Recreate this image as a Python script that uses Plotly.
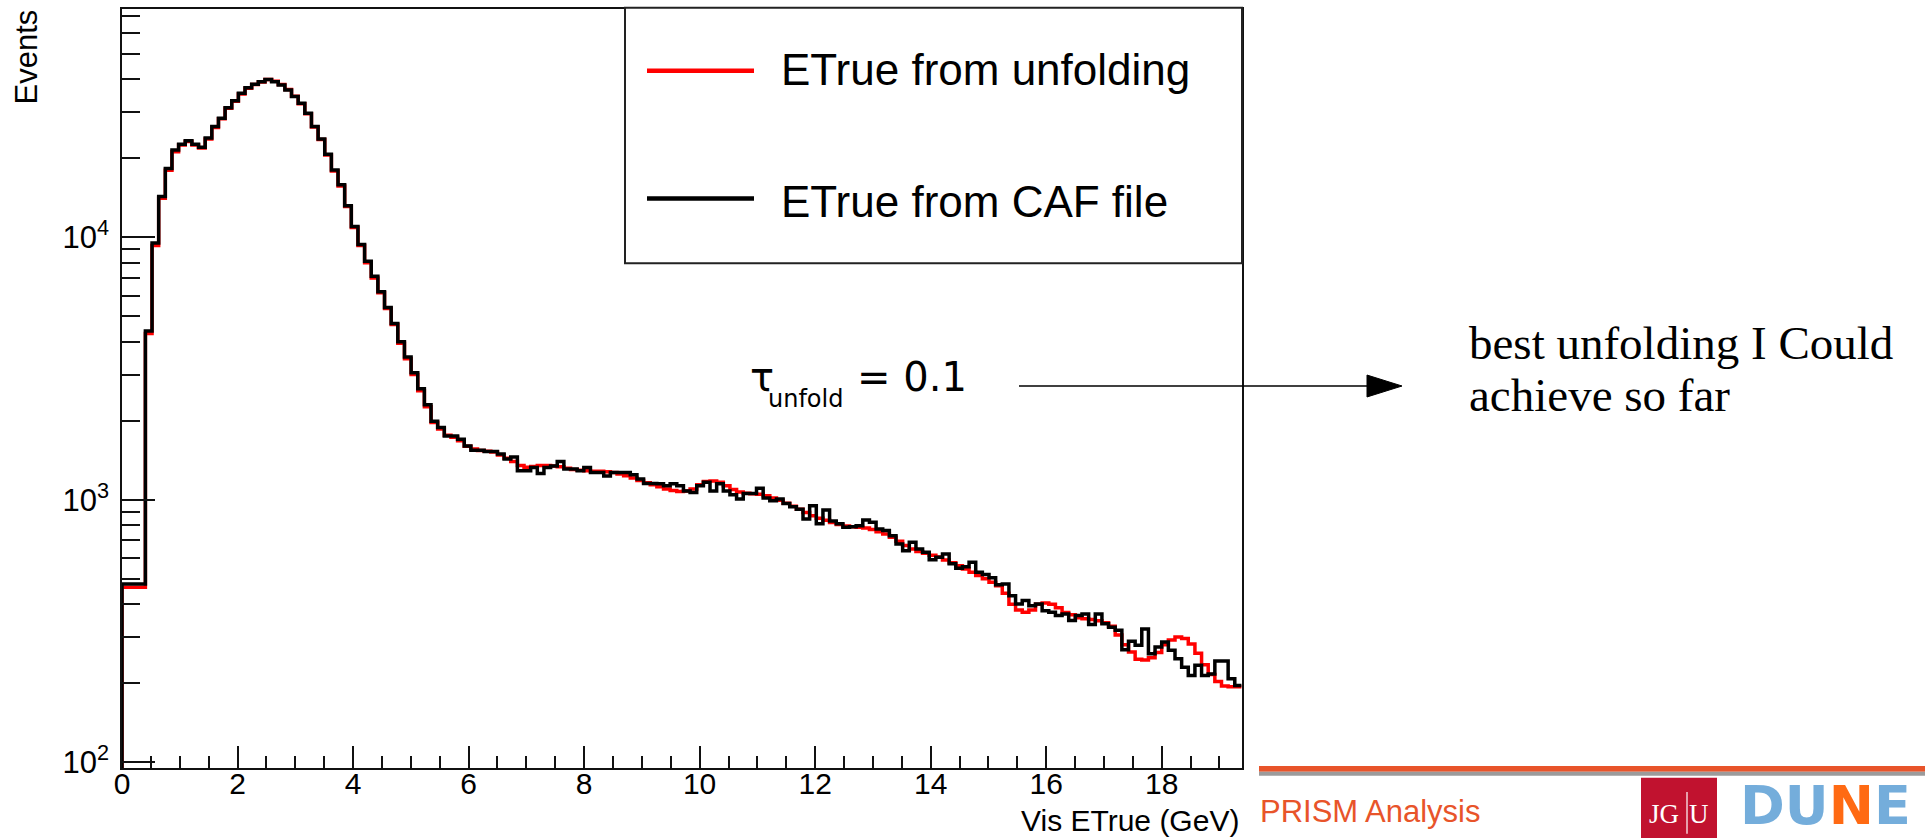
import plotly.graph_objects as go

# ---------------- data ----------------
first_bin_edges = [0.0, 0.405]      # wide first bin
bin_start = 0.405
bin_width = 0.115
n_bins = 165

caf_first = 478
caf = [
    4400, 9510, 14300, 18300, 21500, 22650, 23340, 22650, 22030, 23880,
    26420, 28430, 31190, 33170, 35390, 37170, 38270, 39170, 39960, 39170,
    38070, 36460, 34390, 32420, 29710, 26420, 23720, 20750, 18070, 15850,
    13200, 11000, 9400, 8100, 7100, 6200, 5400, 4700, 4000, 3500,
    3050, 2650, 2300, 1990, 1885, 1750, 1750, 1700, 1604, 1545,
    1545, 1527, 1527, 1493, 1429, 1455, 1289, 1289, 1327, 1259,
    1327, 1346, 1400, 1310, 1310, 1289, 1327, 1271, 1271, 1233,
    1271, 1271, 1271, 1245, 1199, 1154, 1154, 1150, 1130, 1150,
    1130, 1081, 1066, 1130, 1165, 1081, 1150, 1081, 1045, 1007,
    1057, 1057, 1107, 1015, 991, 1007, 968, 940, 921, 845,
    948, 810, 915, 831, 810, 785, 789, 796, 837, 821,
    774, 763, 730, 679, 640, 689, 650, 631, 591, 604,
    622, 571, 549, 556, 578, 530, 519, 504, 475, 478,
    431, 401, 413, 395, 401, 378, 373, 362, 367, 347,
    362, 367, 335, 367, 337, 327, 318, 268, 289, 279,
    322, 259, 275, 287, 267, 248, 230, 214, 234, 214,
    217, 243, 243, 208, 196,
]

unf_first = 464
unf = [
    4300, 9300, 14100, 18000, 21200, 22500, 23200, 22500, 21900, 23700,
    26200, 28300, 31000, 33000, 35200, 37000, 38200, 39100, 39900, 39300,
    38200, 36600, 34500, 32300, 29600, 26300, 23600, 20600, 17900, 15700,
    13100, 10900, 9300, 8000, 7000, 6150, 5350, 4650, 3950, 3450,
    3000, 2600, 2260, 1970, 1860, 1760, 1730, 1680, 1600, 1560,
    1540, 1530, 1520, 1480, 1440, 1400, 1350, 1330, 1340, 1350,
    1350, 1345, 1335, 1320, 1305, 1295, 1290, 1285, 1285, 1280,
    1270, 1255, 1235, 1210, 1185, 1160, 1140, 1120, 1100, 1085,
    1075, 1080, 1100, 1140, 1175, 1180, 1165, 1130, 1095, 1070,
    1060, 1055, 1050, 1035, 1015, 995, 970, 945, 920, 895,
    870, 850, 835, 820, 805, 795, 790, 785, 780, 770,
    755, 740, 720, 695, 670, 650, 635, 625, 615, 605,
    590, 575, 560, 545, 530, 515, 500, 485, 470, 440,
    400, 380, 373, 380, 400, 404, 400, 388, 372, 365,
    355, 352, 350, 346, 340, 330, 305, 280, 263, 247,
    245, 250, 262, 280, 292, 300, 296, 282, 260, 235,
    216, 203, 195, 194, 194,
]

legend_labels = ["ETrue from unfolding", "ETrue from CAF file"]
x_ticks = [0, 2, 4, 6, 8, 10, 12, 14, 16, 18]
y_ticks = [100, 1000, 10000]
y_ticktext = ["10<sup>2</sup>", "10<sup>3</sup>", "10<sup>4</sup>"]
y_minor = [v * m for v in (100, 1000, 10000) for m in range(2, 10)]

x_range = [0, 19.39]
y_range = [1.978, 4.870]

# ---------------- layout geometry (pixels) ----------------
W, H = 1925, 838
L, R, T, B = 122, 683, 7, 70
PW, PH = W - L - R, H - T - B


def px(x):
    return (x - L) / PW


def py(y):
    return (H - B - y) / PH


edges = first_bin_edges + [round(bin_start + bin_width * (i + 1), 4) for i in range(n_bins)]
floor_val = 10 ** (y_range[0] - 0.5)


def step_xy(first, vals):
    ys = [floor_val, first] + list(vals) + [vals[-1]]
    xs = [edges[0]] + edges
    return xs, ys


fig = go.Figure()
xr, yr = step_xy(unf_first, unf)
fig.add_trace(go.Scatter(x=xr, y=yr, mode="lines", line=dict(color="#ff0000", width=3.5, shape="hv"),
                         name=legend_labels[0], showlegend=False, hoverinfo="skip"))
xb, yb = step_xy(caf_first, caf)
fig.add_trace(go.Scatter(x=xb, y=yb, mode="lines", line=dict(color="#000000", width=3.5, shape="hv"),
                         name=legend_labels[1], showlegend=False, hoverinfo="skip"))

xtick_font = dict(family="Liberation Sans, Arial, sans-serif", size=30, color="black")
ytick_font = dict(family="Liberation Sans, Arial, sans-serif", size=31, color="black")

fig.update_xaxes(range=x_range, showgrid=False, zeroline=False,
                 showline=True, mirror=True, linecolor="#111", linewidth=1.5,
                 ticks="inside", ticklen=22, tickwidth=1.5, tickcolor="#111",
                 tickvals=x_ticks, ticktext=[str(v) for v in x_ticks],
                 tickfont=xtick_font, ticklabelstandoff=-12,
                 minor=dict(ticks="inside", ticklen=12, tickwidth=1.5, tickcolor="#111", dtick=0.5, tick0=0))
fig.update_yaxes(type="log", range=y_range, showgrid=False, zeroline=False,
                 showline=True, mirror=True, linecolor="#111", linewidth=1.5,
                 ticks="inside", ticklen=33, tickwidth=1.5, tickcolor="#111",
                 tickvals=y_ticks, ticktext=y_ticktext,
                 tickfont=ytick_font, ticklabelstandoff=5,
                 minor=dict(ticks="inside", ticklen=18, tickwidth=1.5, tickcolor="#111", tickvals=y_minor))

shapes = []
annots = []

# legend box
shapes.append(dict(type="rect", xref="paper", yref="paper", x0=px(625), x1=px(1242), y0=py(262), y1=py(5.7),
                   line=dict(color="#222", width=2), fillcolor="white", layer="above"))
shapes.append(dict(type="line", xref="paper", yref="paper", x0=px(647), x1=px(754), y0=py(69), y1=py(69),
                   line=dict(color="#ff0000", width=4.5), layer="above"))
shapes.append(dict(type="line", xref="paper", yref="paper", x0=px(647), x1=px(754), y0=py(197), y1=py(197),
                   line=dict(color="#000000", width=4.5), layer="above"))
leg_font = dict(family="Liberation Sans, Arial, sans-serif", size=44, color="black")
annots.append(dict(x=px(779), y=py(68), xref="paper", yref="paper", text=legend_labels[0],
                   xanchor="left", yanchor="middle", showarrow=False, font=leg_font))
annots.append(dict(x=px(779), y=py(200), xref="paper", yref="paper", text=legend_labels[1],
                   xanchor="left", yanchor="middle", showarrow=False, font=leg_font))

# axis titles
annots.append(dict(x=px(1240), y=py(821), xref="paper", yref="paper", text="Vis ETrue (GeV)",
                   xanchor="right", yanchor="middle", showarrow=False, borderpad=0,
                   font=dict(family="Liberation Sans, Arial, sans-serif", size=30, color="black")))
annots.append(dict(x=px(27), y=py(6), xref="paper", yref="paper", text="Events", textangle=-90,
                   xanchor="center", yanchor="top", showarrow=False,
                   font=dict(family="Liberation Sans, Arial, sans-serif", size=31, color="black")))

# tau annotation
tau_font = dict(family="DejaVu Sans, sans-serif", size=40, color="black")
annots.append(dict(x=px(748), y=py(376), xref="paper", yref="paper", text="τ",
                   xanchor="left", yanchor="middle", showarrow=False, font=tau_font))
annots.append(dict(x=px(766), y=py(398), xref="paper", yref="paper", text="unfold",
                   xanchor="left", yanchor="middle", showarrow=False,
                   font=dict(family="DejaVu Sans, sans-serif", size=24, color="black")))
annots.append(dict(x=px(855), y=py(376), xref="paper", yref="paper", text="= 0.1",
                   xanchor="left", yanchor="middle", showarrow=False, font=tau_font))

# arrow
shapes.append(dict(type="line", xref="paper", yref="paper", x0=px(1019), x1=px(1372), y0=py(385), y1=py(385),
                   line=dict(color="black", width=1.5), layer="above"))
shapes.append(dict(type="path", xref="paper", yref="paper",
                   path=f"M {px(1367)},{py(374)} L {px(1402)},{py(385)} L {px(1367)},{py(396)} Z",
                   fillcolor="black", line=dict(color="black", width=1), layer="above"))

# comment text
serif_font = dict(family="Liberation Serif, Times New Roman, serif", size=47, color="black")
annots.append(dict(x=px(1468), y=py(341.5), xref="paper", yref="paper", text="best unfolding I Could",
                   xanchor="left", yanchor="middle", showarrow=False, font=serif_font, borderpad=0))
annots.append(dict(x=px(1468), y=py(394), xref="paper", yref="paper", text="achieve so far",
                   xanchor="left", yanchor="middle", showarrow=False, font=serif_font, borderpad=0))

# footer bar
shapes.append(dict(type="rect", xref="paper", yref="paper", x0=px(1259), x1=px(1925), y0=py(771.7), y1=py(766),
                   fillcolor="#e8542a", line=dict(width=0), layer="above"))
shapes.append(dict(type="rect", xref="paper", yref="paper", x0=px(1259), x1=px(1925), y0=py(775.7), y1=py(771.7),
                   fillcolor="#9b9b9b", line=dict(width=0), layer="above"))
annots.append(dict(x=px(1258), y=py(812), xref="paper", yref="paper", text="PRISM Analysis",
                   xanchor="left", yanchor="middle", showarrow=False,
                   font=dict(family="Liberation Sans, Arial, sans-serif", size=31, color="#e8542a")))

# JGU logo
shapes.append(dict(type="rect", xref="paper", yref="paper", x0=px(1641), x1=px(1717), y0=py(840), y1=py(777.7),
                   fillcolor="#c1122f", line=dict(width=0), layer="above"))
shapes.append(dict(type="line", xref="paper", yref="paper", x0=px(1687), x1=px(1687), y0=py(792), y1=py(834),
                   line=dict(color="white", width=1.2), layer="above"))
jgu_font = dict(family="Liberation Serif, serif", size=27, color="white")
annots.append(dict(x=px(1664), y=py(814), xref="paper", yref="paper", text="JG",
                   xanchor="center", yanchor="middle", showarrow=False, font=jgu_font))
annots.append(dict(x=px(1699), y=py(814), xref="paper", yref="paper", text="U",
                   xanchor="center", yanchor="middle", showarrow=False, font=jgu_font))

# DUNE logo (text approximation)
annots.append(dict(x=px(1738), y=py(806), xref="paper", yref="paper",
                   text="<b>DU<span style='color:#ff6a13'>N</span>E</b>",
                   xanchor="left", yanchor="middle", showarrow=False,
                   font=dict(family="DejaVu Sans, sans-serif", size=54, color="#74addb")))

fig.update_layout(width=W, height=H, margin=dict(l=L, r=R, t=T, b=B, pad=0),
                  paper_bgcolor="white", plot_bgcolor="white",
                  shapes=shapes, annotations=annots, showlegend=False)

fig.write_html("out.html", config={"displayModeBar": False})
